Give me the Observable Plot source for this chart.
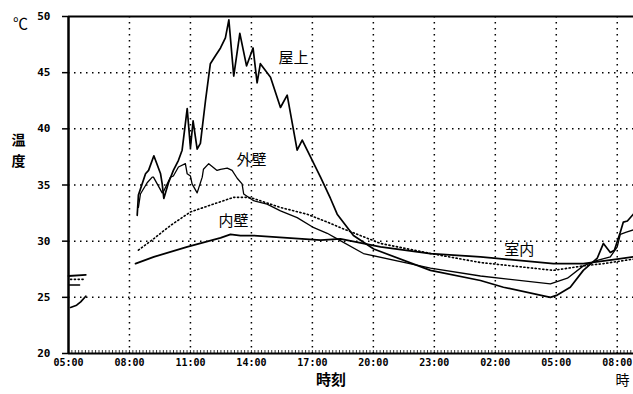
<!DOCTYPE html>
<html><head><meta charset="utf-8">
<script src="https://cdn.jsdelivr.net/npm/d3@7"></script>
<script src="https://cdn.jsdelivr.net/npm/@observablehq/plot@0.6"></script>
<style>body{margin:0;background:#fff} svg{display:block}</style>
</head><body><div id="chart"></div>
<script>
// hours elapsed since 05:00 on day 1
const hourTicks = [0, 3, 6, 9, 12, 15, 18, 21, 24, 27];
const tickLabels = ["05:00","08:00","11:00","14:00","17:00","20:00","23:00","02:00","05:00","08:00"];
const yTicks = [20, 25, 30, 35, 40, 45, 50];
const gridY = [25, 30, 35, 40, 45];
const gridX = [3, 6, 9, 12, 15, 18, 21, 24, 27];

// 屋上 (roof)
const roofT = [0.1, 0.4, 0.6, 0.85, null,
  3.38, 3.44, 3.79, 3.94, 4.20, 4.53, 4.61, 4.69, 4.92, 5.16, 5.41, 5.59, 5.84, 6.00, 6.13, 6.33, 6.49, 6.74, 6.98, 7.23, 7.48, 7.72, 7.89, 8.13, 8.43, 8.76, 9.08, 9.28, 9.44, 9.94, 10.43, 10.76, 11.25, 11.50, 12.40, 12.89, 13.22, 14.02, 15.02, 17.81, 20.27, 21.40, 23.71, 24.05, 24.69, 25.33, 26.02, 26.32, 26.66, 26.86, 27.15, 27.30, 27.50, 27.79];
const roofV = [24.1, 24.3, 24.6, 25.1, null,
  32.3, 34.1, 36.0, 36.3, 37.6, 36.0, 35.1, 33.8, 35.2, 36.3, 37.2, 38.1, 41.8, 38.3, 40.7, 38.2, 38.7, 42.5, 45.8, 46.5, 47.2, 48.1, 49.7, 44.7, 48.5, 45.6, 47.2, 44.1, 45.8, 44.6, 41.9, 43.0, 38.1, 39.0, 35.7, 33.8, 32.4, 30.5, 29.3, 27.4, 26.5, 25.9, 25.0, 25.2, 25.9, 27.4, 28.5, 29.8, 29.0, 29.2, 30.8, 31.7, 31.8, 32.4];

// 外壁 (outer wall)
const outerT = [0.0, 0.55, null,
  3.44, 3.54, 3.87, 4.12, 4.18, 4.61, 4.67, 5.02, 5.16, 5.41, 5.75, 5.84, 6.00, 6.08, 6.33, 6.58, 6.64, 6.90, 7.31, 7.48, 7.81, 8.05, 8.30, 8.54, 8.62, 9.11, 9.77, 10.43, 11.25, 12.07, 12.73, 13.22, 14.51, 17.81, 20.27, 23.71, 24.55, 25.33, 26.02, 26.66, 27.00, 27.15, 27.45, 27.79];
const outerV = [26.1, 26.1, null,
  33.0, 34.2, 35.2, 35.7, 35.7, 34.3, 34.4, 35.7, 35.8, 36.6, 36.9, 36.0, 35.8, 35.1, 34.3, 35.7, 36.4, 36.9, 36.3, 36.4, 36.5, 36.3, 35.6, 35.1, 34.2, 33.6, 33.3, 32.7, 32.1, 31.2, 30.7, 30.2, 28.9, 27.6, 26.9, 26.2, 26.7, 27.8, 28.3, 28.6, 29.5, 30.6, 30.8, 31.0];

// 内壁 (inner wall, dotted)
const innerT = [0.1, 0.8, null,
  3.44, 4.18, 5.02, 6.00, 7.13, 8.12, 8.80, 9.10, 10.43, 11.74, 12.73, 13.38, 15.35, 17.81, 20.27, 23.86, 25.33, 26.32, 27.79];
const innerV = [26.6, 26.6, null,
  29.2, 30.2, 31.4, 32.6, 33.3, 33.9, 33.9, 33.8, 33.0, 32.4, 31.7, 31.2, 29.8, 28.9, 28.1, 27.4, 27.8, 28.0, 28.4];

// 室内 (indoor air)
const indoorT = [0.0, 0.85, null,
  3.30, 4.20, 5.84, 7.48, 7.97, 8.46, 9.11, 10.76, 12.40, 13.38, 15.35, 17.81, 20.27, 23.86, 25.33, 27.00, 27.79];
const indoorV = [26.9, 27.0, null,
  28.0, 28.6, 29.5, 30.3, 30.6, 30.5, 30.5, 30.3, 30.1, 30.2, 29.5, 28.9, 28.6, 28.0, 28.0, 28.4, 28.6];

const seriesLabels = ["屋上", "外壁", "内壁", "室内"];
const labelT = [11.07, 9.0, 8.12, 22.18];
const labelV = [46.3, 37.2, 31.8, 29.2];

const rows = (T, V) => T.map((t, i) => ({t, v: V[i]}));
const labels = seriesLabels.map((s, i) => ({s, t: labelT[i], v: labelV[i]}));
const minorTicks = d3.range(0, 27.8, 1 / 6);

const cjk = "'Noto Sans CJK JP', sans-serif";
const num = "'DejaVu Sans Mono', monospace";

const chart = Plot.plot({
  width: 633, height: 394,
  marginLeft: 68, marginRight: 0, marginTop: 16, marginBottom: 41,
  style: {background: "#fff", color: "#000"},
  x: {domain: [0, 27.8]},
  y: {domain: [20, 50]},
  marks: [
    Plot.gridY(gridY, {stroke: "#000", strokeOpacity: 1, strokeDasharray: "1.5,4.5", strokeWidth: 1.5}),
    Plot.gridX(gridX, {stroke: "#000", strokeOpacity: 1, strokeDasharray: "1.5,4.5", strokeWidth: 1.5}),
    Plot.axisY({ticks: yTicks, tickSize: 6, tickPadding: 12, fontSize: 11, fontWeight: "bold", fontFamily: num, strokeWidth: 1.5, label: null}),
    Plot.axisX({ticks: hourTicks, tickSize: 0, tickPadding: 5, fontSize: 10, fontWeight: "bold", fontFamily: num, tickFormat: (d, i) => tickLabels[i], label: null}),
    Plot.axisX(minorTicks, {tickSize: 3, dy: -3, text: null, strokeWidth: 0.8, label: null}),
    Plot.ruleY([50], {stroke: "#000", strokeWidth: 2}),
    Plot.ruleY([20], {stroke: "#000", strokeWidth: 2}),
    Plot.ruleX([0], {stroke: "#000", strokeWidth: 2.5}),
    Plot.line(rows(innerT, innerV), {x: "t", y: "v", stroke: "#000", strokeWidth: 1.6, strokeDasharray: "1.2,2.6"}),
    Plot.line(rows(indoorT, indoorV), {x: "t", y: "v", stroke: "#000", strokeWidth: 1.8}),
    Plot.line(rows(outerT, outerV), {x: "t", y: "v", stroke: "#000", strokeWidth: 1.3}),
    Plot.line(rows(roofT, roofV), {x: "t", y: "v", stroke: "#000", strokeWidth: 1.7}),
    Plot.text(labels, {x: "t", y: "v", text: "s", fontSize: 15, fontFamily: cjk, fill: "#000"}),
    Plot.text(["℃"], {frameAnchor: "top-left", textAnchor: "middle", dx: -48, dy: 2, fontSize: 15, fontFamily: cjk, fill: "#000"}),
    Plot.text(["温"], {frameAnchor: "left", textAnchor: "middle", dx: -50, dy: -44, fontSize: 14, fontFamily: cjk, fontWeight: "bold", fill: "#000"}),
    Plot.text(["度"], {frameAnchor: "left", textAnchor: "middle", dx: -50, dy: -23, fontSize: 14, fontFamily: cjk, fontWeight: "bold", fill: "#000"}),
    Plot.text(["時刻"], {frameAnchor: "bottom", textAnchor: "middle", dx: -20, dy: 31, fontSize: 15, fontFamily: cjk, fontWeight: "bold", fill: "#000"}),
    Plot.text(["時"], {frameAnchor: "bottom-right", textAnchor: "middle", dx: -11, dy: 31, fontSize: 14, fontFamily: cjk, fill: "#000"})
  ]
});
document.getElementById("chart").append(chart);
</script>
</body></html>
